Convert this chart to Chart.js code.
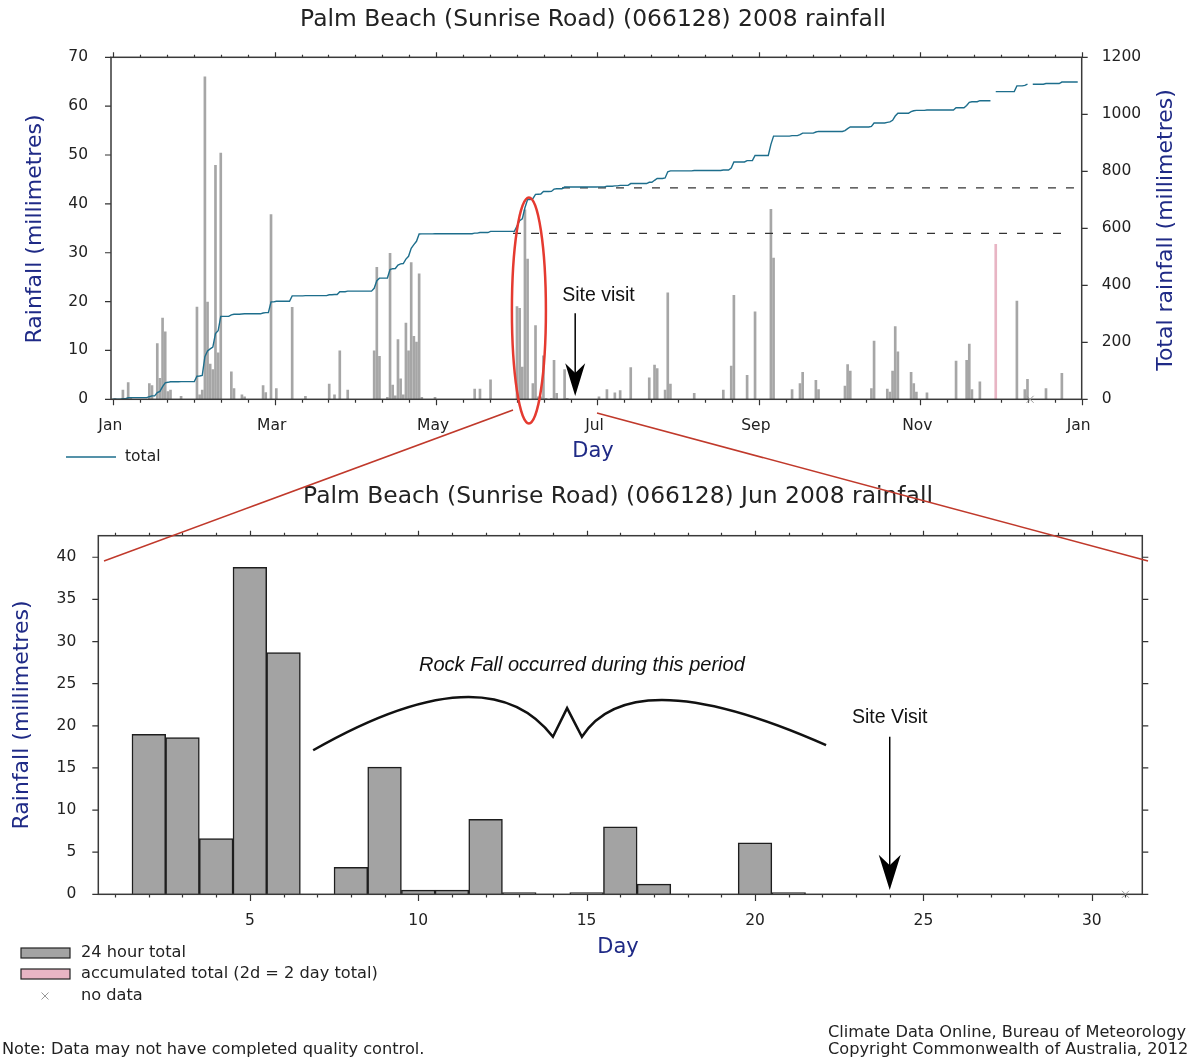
<!DOCTYPE html>
<html>
<head>
<meta charset="utf-8">
<script src="https://cdn.jsdelivr.net/npm/chart.js@4.4.1/dist/chart.umd.min.js"></script>
<style>
  html, body { margin: 0; padding: 0; background: #fff; }
  #page { position: relative; width: 1191px; height: 1059px; overflow: hidden; background: #fff; }
  #topWrap { position: absolute; left: 0; top: 0; width: 1191px; height: 480px; }
  #bottomWrap { position: absolute; left: 0; top: 480px; width: 1191px; height: 579px; }
  #links { position: absolute; left: 0; top: 0; pointer-events: none; }
</style>
</head>
<body>
<div id="page">
  <div id="topWrap"><canvas id="yearChart"></canvas></div>
  <div id="bottomWrap"><canvas id="juneChart"></canvas></div>
  <!-- zoom lines from the June ellipse down to the June chart -->
  <svg id="links" width="1191" height="1059">
    <line x1="513" y1="410" x2="104" y2="561" stroke="#c0392b" stroke-width="1.5"/>
    <line x1="597" y1="413" x2="1148" y2="561" stroke="#c0392b" stroke-width="1.5"/>
  </svg>
</div>
<script>
// ---- data ----
// 2008 daily rainfall outside June: [day of year (0 = 1 Jan), mm]
const yearRainByDay = [
  [1,0.2],[4,1.9],[6,3.4],[7,0.4],[14,3.2],[15,2.8],[17,11.4],[18,4.3],[19,16.6],[20,13.8],[21,1.6],[22,1.9],[26,0.6],
  [32,18.9],[33,0.9],[34,1.9],[35,66.0],[36,19.9],[37,7.2],[38,6.1],[39,47.9],[40,9.5],[41,50.4],[45,5.6],[46,2.2],
  [49,0.9],[50,0.5],[57,2.8],[58,1.4],
  [60,37.8],[62,2.2],[68,18.8],[73,0.6],[82,3.1],[84,0.9],[86,9.9],[89,1.9],
  [99,9.9],[100,27.0],[101,8.8],[104,0.4],[105,29.9],[106,2.9],[107,0.7],[108,12.2],[109,4.2],[110,0.9],
  [111,15.6],[112,9.9],[113,28.0],[114,12.9],[115,11.7],[116,25.7],[117,0.4],[122,0.4],
  [137,2.1],[139,2.1],[143,4.0],
  [184,0.5],[187,2.0],[190,1.3],[192,1.8],[196,6.5],[203,4.4],[205,7.0],[206,6.3],[209,1.9],[210,21.8],[211,3.1],
  [220,1.2],[231,1.9],[234,6.8],[235,21.3],[240,4.9],[243,17.9],[249,38.9],[250,28.9],[257,2.0],[260,3.2],[261,5.5],
  [266,3.9],[267,2.0],[277,2.7],[278,7.1],[279,5.8],[287,2.2],[288,11.9],[293,2.1],[294,1.5],[295,5.8],[296,14.9],
  [297,9.7],[302,5.5],[303,3.2],[304,1.5],[308,1.3],[319,7.8],[323,8.0],[324,11.3],[325,2.0],[328,3.6],
  [342,20.1],[345,2.0],[346,4.1],[353,2.2],[359,5.3]
];
// accumulated (2 day) totals: [day of year, mm]
const accumByDay = [[334, 31.7]];
const noDataDays = [333, 347];

// June 2008 daily rainfall, days 1..31 (31 = no data)
const junLabels = ['1','2','3','4','5','6','7','8','9','10','11','12','13','14','15','16',
  '17','18','19','20','21','22','23','24','25','26','27','28','29','30','31'];
const junRain = [0, 19.0, 18.6, 6.6, 38.8, 28.7, 0, 3.2, 15.1, 0.5, 0.5, 8.9, 0.2, 0, 0.2, 8.0,
  1.2, 0, 0, 6.1, 0.2, 0, 0, 0, 0, 0, 0, 0, 0, 0, null];
const junStart = 152;          // 1 June as day of year
const siteVisitJuneDay = 24;

const monthLabels = ['Jan', 'Mar', 'May', 'Jul', 'Sep', 'Nov', 'Jan'];
// dashed marks of the running total before and after June (mm)
const juneMarkValues = [582, 742];
const juneMarkFrom = [152, 170.5];
const juneMarkTo = [362.6, 365.6];

// ---- build series ----
const daily = new Array(366).fill(0);
yearRainByDay.forEach(([d, v]) => { daily[d] = v; });
junRain.slice(0, 30).forEach((v, i) => { daily[junStart + i] = v; });
accumByDay.forEach(([d, v]) => { daily[d] = v; });
const accumSet = accumByDay.map(p => p[0]);

const dayBars = [];
daily.forEach((v, d) => { if (v > 0 && !accumSet.includes(d)) dayBars.push({ x: d + 0.5, y: v }); });
const accumBars = accumByDay.map(([d, v]) => ({ x: d + 0.5, y: v }));

const runningTotal = [];
let run = 0;
for (let d = 0; d < 366; d++) {
  run += daily[d];
  runningTotal.push({ x: d + 0.5, y: noDataDays.includes(d) ? null : run });
}

// 37 evenly spaced ticks on the year axis, every 6th labelled
const yearTicks = [];
for (let k = 0; k <= 36; k++) yearTicks.push(0.87 + k * 10.17);

const blue = '#1f2a86';
const teal = '#1d6e8c';
const tickColor = '#222';
Chart.defaults.font.family = 'DejaVu Sans';
Chart.defaults.font.size = 15.5;
Chart.defaults.color = tickColor;

// ---- drawing helpers ----
function text(ctx, str, x, y, font, color, align, rotate) {
  ctx.save();
  ctx.font = font;
  ctx.fillStyle = color;
  ctx.textAlign = align || 'center';
  ctx.textBaseline = 'middle';
  ctx.translate(x, y);
  if (rotate) ctx.rotate(-Math.PI / 2);
  ctx.fillText(str, 0, 0);
  ctx.restore();
}

function cross(ctx, x, y, r) {
  ctx.save();
  ctx.strokeStyle = '#999';
  ctx.lineWidth = 1;
  ctx.beginPath();
  ctx.moveTo(x - r, y - r); ctx.lineTo(x + r, y + r);
  ctx.moveTo(x + r, y - r); ctx.lineTo(x - r, y + r);
  ctx.stroke();
  ctx.restore();
}

function arrow(ctx, x, yTop, yHead, yTip, hw) {
  ctx.save();
  ctx.strokeStyle = '#000';
  ctx.fillStyle = '#000';
  ctx.lineWidth = 1.5;
  ctx.beginPath();
  ctx.moveTo(x, yTop); ctx.lineTo(x, yTip - 4);
  ctx.stroke();
  ctx.beginPath();
  ctx.moveTo(x, yTip);
  ctx.lineTo(x - hw, yHead);
  ctx.lineTo(x, yHead + (yTip - yHead) * 0.3);
  ctx.lineTo(x + hw, yHead);
  ctx.closePath();
  ctx.fill();
  ctx.restore();
}

function frame(ctx, a, xTicks, leftTicks, rightTicks, len) {
  ctx.save();
  ctx.strokeStyle = '#333';
  ctx.lineWidth = 1.2;
  ctx.beginPath();
  xTicks.forEach(t => {
    const x = Math.round(t.px) + 0.5;
    ctx.moveTo(x, a.bottom); ctx.lineTo(x, a.bottom + (t.major ? len.bMajor : len.bMinor));
    ctx.moveTo(x, a.top); ctx.lineTo(x, a.top - (t.major ? len.tMajor : len.tMinor));
  });
  leftTicks.forEach(py => { ctx.moveTo(a.left, py); ctx.lineTo(a.left - 6, py); });
  rightTicks.forEach(py => { ctx.moveTo(a.right, py); ctx.lineTo(a.right + 6, py); });
  ctx.stroke();
  ctx.strokeStyle = '#3a3a3a';
  ctx.lineWidth = 1.5;
  ctx.strokeRect(a.left, a.top, a.right - a.left, a.bottom - a.top);
  ctx.restore();
}

const titleFont = '23.4px "DejaVu Sans"';
const smallFont = '16.2px "DejaVu Sans"';

// ---- year chart ----
const yearDecor = {
  id: 'yearDecor',
  afterDraw(chart) {
    const { ctx, chartArea: a, scales: { x, y, y2 } } = chart;
    frame(ctx, a,
      yearTicks.map((v, i) => ({ px: x.getPixelForValue(v), major: i % 6 === 0 })),
      [0, 10, 20, 30, 40, 50, 60, 70].map(v => y.getPixelForValue(v)),
      [0, 200, 400, 600, 800, 1000, 1200].map(v => y2.getPixelForValue(v)),
      { bMajor: 6, bMinor: 3.5, tMajor: 5, tMinor: 2.5 });

    noDataDays.slice(1).forEach(d => cross(ctx, x.getPixelForValue(d + 0.5), a.bottom, 3.5));

    // red ellipse round the June storm
    ctx.save();
    ctx.strokeStyle = '#e53a30';
    ctx.lineWidth = 2.5;
    ctx.beginPath();
    ctx.ellipse(x.getPixelForValue(junStart + 6), y.getPixelForValue(18.2), 17, 113, 0, 0, Math.PI * 2);
    ctx.stroke();
    ctx.restore();

    // site visit
    const sx = x.getPixelForValue(junStart + siteVisitJuneDay - 0.5);
    text(ctx, 'Site visit', sx - 13, y.getPixelForValue(21.3), '19.5px "Liberation Sans"', '#111', 'left');
    arrow(ctx, sx, y.getPixelForValue(17.6), y.getPixelForValue(7.4), y.getPixelForValue(0.7), 10);

    text(ctx, 'Palm Beach (Sunrise Road) (066128) 2008 rainfall', 593, 19.5, titleFont, '#222');
    text(ctx, 'Rainfall (millimetres)', 35, 229, '22px "DejaVu Sans"', blue, 'center', true);
    text(ctx, 'Total rainfall (millimetres)', 1166, 230, '22px "DejaVu Sans"', blue, 'center', true);
    text(ctx, 'Day', 593, 452, '21px "DejaVu Sans"', blue);

    ctx.save();
    ctx.strokeStyle = teal;
    ctx.lineWidth = 1.5;
    ctx.beginPath(); ctx.moveTo(66, 457); ctx.lineTo(116, 457); ctx.stroke();
    ctx.restore();
    text(ctx, 'total', 125, 457, '15.5px "DejaVu Sans"', '#222', 'left');
  }
};

const markSets = juneMarkValues.map((v, i) => ({
  type: 'line',
  label: 'mark' + i,
  data: [{ x: juneMarkFrom[i], y: v }, { x: juneMarkTo[i], y: v }],
  yAxisID: 'y2',
  borderColor: '#333',
  borderWidth: 1.2,
  borderDash: [8, 10],
  pointRadius: 0
}));

new Chart(document.getElementById('yearChart'), {
  type: 'bar',
  data: {
    datasets: [
      { type: 'line', label: 'total', data: runningTotal, yAxisID: 'y2', borderColor: teal,
        borderWidth: 1.4, pointRadius: 0, spanGaps: false, order: 0 },
      ...markSets,
      { label: '24 hour total', data: dayBars, yAxisID: 'y', backgroundColor: '#a6a6a6',
        barThickness: 2, grouped: false, order: 2 },
      { label: 'accumulated total', data: accumBars, yAxisID: 'y', backgroundColor: '#e8b5c4',
        barThickness: 2, grouped: false, order: 2 }
    ]
  },
  options: {
    responsive: true,
    maintainAspectRatio: false,
    animation: false,
    layout: { padding: { top: 57.3, left: 0, right: 0, bottom: 0 } },
    plugins: { legend: { display: false }, tooltip: { enabled: false } },
    scales: {
      x: {
        type: 'linear', min: 0, max: 367, offset: false,
        grid: { display: false, drawTicks: false }, border: { display: false },
        ticks: { autoSkip: false, maxRotation: 0, padding: 17, labelOffset: -3,
          callback: (v, i) => (i % 6 === 0 ? monthLabels[i / 6] : '') },
        afterBuildTicks: s => { s.ticks = yearTicks.map(v => ({ value: v })); },
        afterFit: s => { s.height = 80.7; }
      },
      y: {
        position: 'left', min: 0, max: 70,
        grid: { display: false, drawTicks: false }, border: { display: false },
        ticks: { stepSize: 10, padding: 23 },
        afterFit: s => { s.width = 111; }
      },
      y2: {
        position: 'right', min: 0, max: 1200,
        grid: { display: false, drawTicks: false }, border: { display: false },
        ticks: { stepSize: 200, padding: 20, callback: v => String(v) },
        afterFit: s => { s.width = 109.3; }
      }
    }
  },
  plugins: [yearDecor]
});

// ---- June chart ----
const braceDays = [6.88, 12.04, 14.0, 14.42, 14.86, 16.35, 22.11];
const braceMm = [17.1, 28.9, 18.7, 22.1, 18.7, 27.9, 17.7];

const juneDecor = {
  id: 'juneDecor',
  afterDraw(chart) {
    const { ctx, chartArea: a, scales: { x, y } } = chart;
    const px = d => x.getPixelForValue(d - 1);
    const yTicks = [0, 5, 10, 15, 20, 25, 30, 35, 40].map(v => y.getPixelForValue(v));
    frame(ctx, a,
      junLabels.map((l, i) => ({ px: px(i + 1), major: (i + 1) % 5 === 0 })),
      yTicks, yTicks,
      { bMajor: 6.7, bMinor: 3.3, tMajor: 5, tMinor: 3 });

    junRain.forEach((v, i) => { if (v === null) cross(ctx, px(i + 1), a.bottom, 3.5); });

    // rock fall brace
    const P = braceDays.map((d, i) => [px(d), y.getPixelForValue(braceMm[i])]);
    ctx.save();
    ctx.strokeStyle = '#111';
    ctx.lineWidth = 2.5;
    ctx.lineJoin = 'miter';
    ctx.beginPath();
    ctx.moveTo(P[0][0], P[0][1]);
    ctx.quadraticCurveTo(P[1][0], P[1][1], P[2][0], P[2][1]);
    ctx.lineTo(P[3][0], P[3][1]);
    ctx.lineTo(P[4][0], P[4][1]);
    ctx.quadraticCurveTo(P[5][0], P[5][1], P[6][0], P[6][1]);
    ctx.stroke();
    ctx.restore();
    text(ctx, 'Rock Fall occurred during this period', px(14.86), y.getPixelForValue(27.2),
      'italic 20px "Liberation Sans"', '#111');

    const sx = px(siteVisitJuneDay);
    text(ctx, 'Site Visit', sx, y.getPixelForValue(21.0), '19.5px "Liberation Sans"', '#111');
    arrow(ctx, sx, y.getPixelForValue(18.7), y.getPixelForValue(4.7), y.getPixelForValue(0.5), 11);

    text(ctx, 'Palm Beach (Sunrise Road) (066128) Jun 2008 rainfall', 618, 16.5, titleFont, '#222');
    text(ctx, 'Rainfall (millimetres)', 22, 235, '22px "DejaVu Sans"', blue, 'center', true);
    text(ctx, 'Day', 618, 468, '21px "DejaVu Sans"', blue);

    // legend
    ctx.save();
    ctx.lineWidth = 1.2;
    ctx.strokeStyle = '#222';
    ctx.fillStyle = '#a3a3a3';
    ctx.fillRect(21, 468, 49, 10); ctx.strokeRect(21, 468, 49, 10);
    ctx.fillStyle = '#e8b5c4';
    ctx.fillRect(21, 489, 49, 10); ctx.strokeRect(21, 489, 49, 10);
    ctx.restore();
    cross(ctx, 45, 516, 3.5);
    text(ctx, '24 hour total', 81, 473, smallFont, '#222', 'left');
    text(ctx, 'accumulated total (2d = 2 day total)', 81, 494, smallFont, '#222', 'left');
    text(ctx, 'no data', 81, 516, smallFont, '#222', 'left');

    text(ctx, 'Note: Data may not have completed quality control.', 2, 570, smallFont, '#222', 'left');
    text(ctx, 'Climate Data Online, Bureau of Meteorology', 828, 553, smallFont, '#222', 'left');
    text(ctx, 'Copyright Commonwealth of Australia, 2012', 828, 570, smallFont, '#222', 'left');
  }
};

new Chart(document.getElementById('juneChart'), {
  type: 'bar',
  data: {
    labels: junLabels,
    datasets: [{
      label: '24 hour total',
      data: junRain,
      backgroundColor: '#a3a3a3',
      borderColor: '#1e1e1e',
      borderWidth: 1.5,
      barPercentage: 1,
      categoryPercentage: 1
    }]
  },
  options: {
    responsive: true,
    maintainAspectRatio: false,
    animation: false,
    layout: { padding: { top: 55.7, left: 0, right: 48.7, bottom: 0 } },
    plugins: { legend: { display: false }, tooltip: { enabled: false } },
    scales: {
      x: {
        type: 'category', offset: true,
        grid: { display: false, drawTicks: false }, border: { display: false },
        ticks: { autoSkip: false, maxRotation: 0, padding: 17,
          callback: (v, i) => ((i + 1) % 5 === 0 ? junLabels[i] : '') },
        afterFit: s => { s.height = 164.7; }
      },
      y: {
        min: 0, max: 42.56,
        grid: { display: false, drawTicks: false }, border: { display: false },
        ticks: { stepSize: 5, padding: 22, includeBounds: false },
        afterFit: s => { s.width = 98.3; }
      }
    }
  },
  plugins: [juneDecor]
});
</script>
</body>
</html>
